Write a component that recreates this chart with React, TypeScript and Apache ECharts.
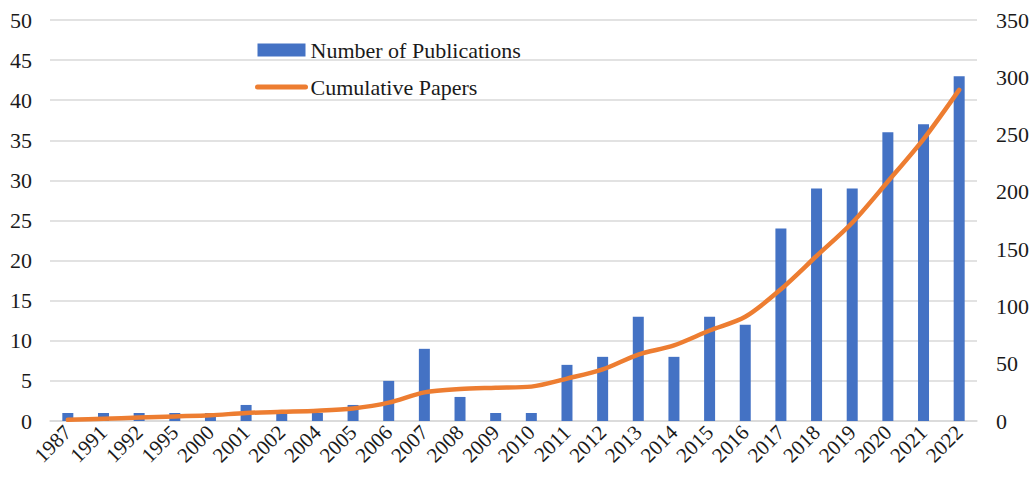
import React, { useEffect, useRef } from "react";
import * as echarts from "echarts";

const years = ["1987","1991","1992","1995","2000","2001","2002","2004","2005","2006","2007","2008","2009","2010","2011","2012","2013","2014","2015","2016","2017","2018","2019","2020","2021","2022"];
const publications = [1,1,1,1,1,2,1,1,2,5,9,3,1,1,7,8,13,8,13,12,24,29,29,36,37,43];
const cumulative = [1,2,3,4,5,7,8,9,11,16,25,28,29,30,37,45,58,66,79,91,115,144,173,209,246,289];

const FONT = "Liberation Serif";

export default function App() {
  const ref = useRef<HTMLDivElement>(null);
  useEffect(() => {
    document.body.style.margin = "0";
    const chart = echarts.init(ref.current!, null, { renderer: "svg" });
    chart.setOption({
      animation: false,
      textStyle: { fontFamily: FONT },
      grid: { left: 50, right: 56, top: 20, bottom: 59, containLabel: false },
      legend: {
        orient: "vertical",
        left: 255,
        top: 39,
        padding: 0,
        itemWidth: 48,
        itemHeight: 13,
        itemGap: 15,
        textStyle: { fontFamily: FONT, fontSize: 22, color: "#1a1a1a" },
        data: [
          { name: "Number of Publications", icon: "rect" },
          { name: "Cumulative Papers", itemStyle: { opacity: 0 }, lineStyle: { width: 5, cap: "round" } },
        ],
      },
      xAxis: {
        type: "category",
        data: years,
        axisTick: { show: false },
        axisLine: { lineStyle: { color: "#D9D9D9", width: 1.5 } },
        axisLabel: { rotate: 45, interval: 0, fontFamily: FONT, fontSize: 21, color: "#1a1a1a", margin: 8 },
      },
      yAxis: [
        {
          type: "value",
          min: 0,
          max: 50,
          interval: 5,
          axisLine: { show: false },
          axisTick: { show: false },
          splitLine: { lineStyle: { color: "#D9D9D9", width: 1.5 } },
          axisLabel: { fontFamily: FONT, fontSize: 22, color: "#1a1a1a", margin: 18 },
        },
        {
          type: "value",
          min: 0,
          max: 350,
          interval: 50,
          axisLine: { show: false },
          axisTick: { show: false },
          splitLine: { show: false },
          axisLabel: { fontFamily: FONT, fontSize: 22, color: "#1a1a1a", margin: 19 },
        },
      ],
      series: [
        {
          name: "Number of Publications",
          type: "bar",
          data: publications,
          barWidth: 11,
          itemStyle: { color: "#4472C4" },
        },
        {
          name: "Cumulative Papers",
          type: "line",
          yAxisIndex: 1,
          data: cumulative,
          symbol: "none",
          smooth: 0.3,
          lineStyle: { color: "#ED7D31", width: 4.5, cap: "round" },
          itemStyle: { color: "#ED7D31" },
        },
      ],
    });
    return () => chart.dispose();
  }, []);
  return <div ref={ref} style={{ width: 1033, height: 480 }} />;
}
